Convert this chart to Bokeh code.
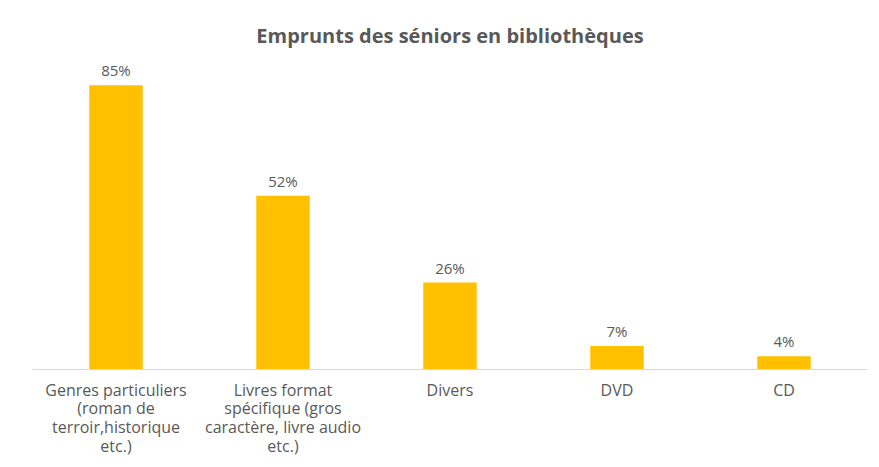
from bokeh.plotting import figure
from bokeh.models import ColumnDataSource, LabelSet, Title
from bokeh.core.properties import value
from bokeh.embed import file_html
from bokeh.resources import INLINE

categories = [
    "Genres particuliers\n(roman de\nterroir,historique\netc.)",
    "Livres format\nspécifique (gros\ncaractère, livre audio\netc.)",
    "Divers",
    "DVD",
    "CD",
]
values = [0.85, 0.52, 0.26, 0.07, 0.04]
value_labels = ["85%", "52%", "26%", "7%", "4%"]

FONT = "Open Sans"
GRAY = "#595959"

src = ColumnDataSource(dict(cat=categories, val=values, lab=value_labels))

p = figure(
    x_range=categories, y_range=(0, 0.96),
    width=871, height=459,
    output_backend="svg", toolbar_location=None,
    min_border_left=32, min_border_right=4,
    min_border_top=48, min_border_bottom=88,
)
p.title = None
p.add_layout(Title(text="Emprunts des séniors en bibliothèques", align="center",
                   text_font=FONT, text_font_size="20px", text_font_style="bold",
                   text_color=GRAY, standoff=0), "above")

p.vbar(x="cat", top="val", width=0.32, source=src, color="#FFC000", line_color=None)

p.add_layout(LabelSet(x="cat", y="val", text="lab", source=src, y_offset=5,
                      text_align="center", text_baseline="bottom",
                      text_font=value(FONT), text_font_size=value("15px"),
                      text_color=GRAY))

p.yaxis.visible = False
p.xgrid.visible = False
p.ygrid.visible = False
p.outline_line_color = None
p.x_range.range_padding = 0

ax = p.xaxis[0]
ax.axis_line_color = "#D9D9D9"
ax.axis_line_width = 1
ax.major_tick_line_color = None
ax.minor_tick_line_color = None
ax.major_label_standoff = 3
ax.major_label_text_font = FONT
ax.major_label_text_font_size = "16px"
ax.major_label_text_color = GRAY
ax.major_label_text_line_height = 0.85

open("out.html", "w").write(file_html(p, INLINE))
